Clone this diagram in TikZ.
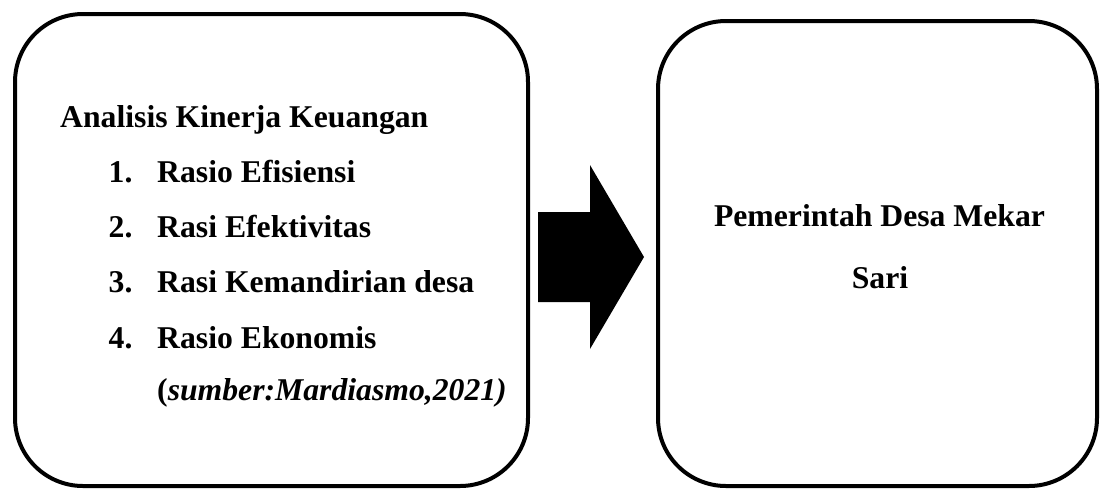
\documentclass[tikz,border=0pt]{standalone}
\usepackage{fontspec}
\setmainfont{Liberation Serif}
\usepackage{tikz}
\usetikzlibrary{positioning, calc}
\tikzset{
	panel/.style   ={rectangle, draw=black, line width=4pt, rounded corners=68pt, inner sep=0pt},
	txt/.style     ={anchor=base west, inner sep=0pt, font=\fontsize{31.7}{38}\selectfont\bfseries},
	ctxt/.style    ={anchor=base, inner sep=0pt, font=\fontsize{31.7}{38}\selectfont\bfseries},
	% block arrow between the two panels
	blockarrow/.style={fill=black, draw=none},
}
\begin{document}
\begin{tikzpicture}[x=1pt, y=-1pt]
	\useasboundingbox (0,0) rectangle (1101,488);
	\node[panel, minimum width=513pt, minimum height=472pt] (left) at (271.5,250) {};
	\node[panel, minimum width=439pt, minimum height=465pt] (right) at (877.5,253.5) {};
	% left panel text
	\node[txt] (title) at (60,127) {Analisis Kinerja Keuangan};
	\foreach \n/\t [count=\i] in {1/Rasio Efisiensi, 2/Rasi Efektivitas, 3/Rasi Kemandirian desa, 4/Rasio Ekonomis}{
		\node[txt] (num\i) at (108.5,{127+55.3*\i}) {\n.};
		\node[txt] (item\i) at (157,{127+55.3*\i}) {\t};
	}
	\node[txt] (src) at (157,400) {(\textit{sumber:Mardiasmo,2021)}};
	% right panel text
	\node[ctxt] (gov) at (879.5,226) {Pemerintah Desa Mekar};
	\node[ctxt] (gov2) at (880,288) {Sari};
	% arrow
	\coordinate (aStart) at ($(left.east)+(8,7)$);
	\fill[blockarrow] (aStart) ++(0,-45) -- ++(52,0) -- ++(0,-47) -- ($(right.west)+(-12,3.5)$) -- ($(aStart)+(52,92)$) -- ++(0,-47) -- ++(-52,0) -- cycle;
\end{tikzpicture}
\end{document}
